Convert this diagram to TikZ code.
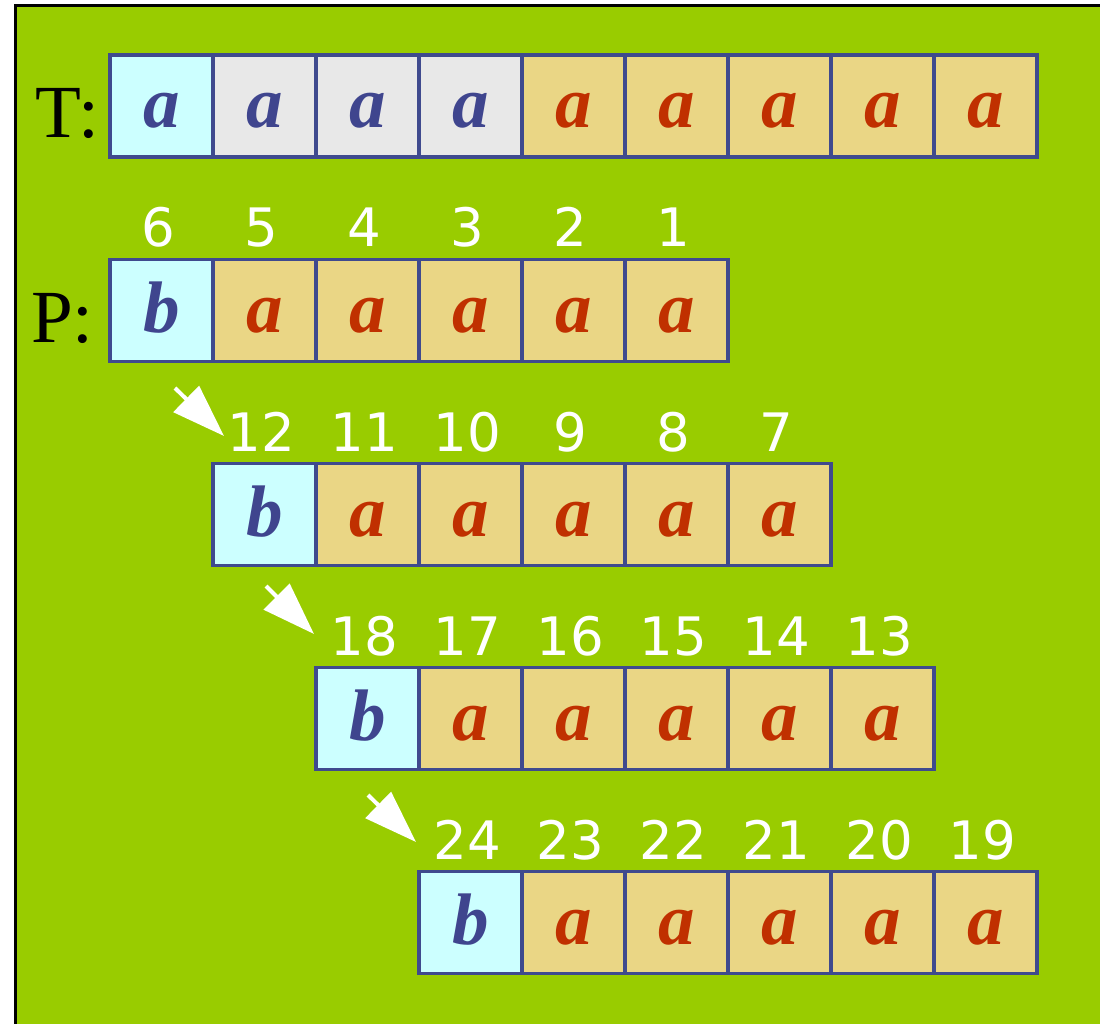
\documentclass[tikz,border=0pt]{standalone}
\usepackage{fontspec}
\setmainfont{Liberation Serif}
\newfontfamily\numfont{DejaVu Sans}
\usetikzlibrary{arrows.meta}
\definecolor{bggreen}{HTML}{99CC00}
\definecolor{cellcyan}{HTML}{CCFFFF}
\definecolor{cellgray}{HTML}{E8E8E8}
\definecolor{celltan}{HTML}{EAD685}
\definecolor{cellborder}{HTML}{3F4A8E}
\definecolor{letblue}{HTML}{3F458E}
\definecolor{letred}{HTML}{C03000}
\tikzset{
  cellbox/.style={draw=cellborder, line width=3.5pt, minimum width=103pt, minimum height=102pt,
    inner sep=0pt, outer sep=0pt, text height=44pt, text depth=0pt,
    font=\bfseries\itshape\fontsize{73}{73}\selectfont},
  cyancell/.style={cellbox, fill=cellcyan, text=letblue},
  graycell/.style={cellbox, fill=cellgray, text=letblue},
  tancell/.style={cellbox, fill=celltan, text=letred},
  numlabel/.style={anchor=base, text=white, inner sep=0pt, font=\numfont\fontsize{53}{53}\selectfont},
  rowlabel/.style={anchor=base east, inner sep=0pt, font=\fontsize{75}{75}\selectfont},
  shiftarrow/.style={draw=white, line width=4pt, -{Triangle[length=53pt,width=36pt]}}
}
\begin{document}
\begin{tikzpicture}[x=1pt,y=-1pt]
\useasboundingbox (0,0) rectangle (1100,1024);
\fill[white] (0,0) rectangle (1100,1024);
\draw[line width=3pt, fill=bggreen] (15.5,5.5) rectangle (1120,1040);

% Text row
\node[rowlabel] (tlab) at (99,138) {T:};
\foreach \i in {1,...,9}{
  \pgfmathsetmacro{\cx}{110+103*(\i-1)+51.5}
  \ifnum\i=1
    \node[cyancell] (t\i) at (\cx,106) {a};
  \else\ifnum\i<5
    \node[graycell] (t\i) at (\cx,106) {a};
  \else
    \node[tancell] (t\i) at (\cx,106) {a};
  \fi\fi
}

% Pattern rows
\node[rowlabel] (plab) at (94,342) {P:};
\foreach \r in {0,1,2,3}{
  \pgfmathsetmacro{\cy}{310.5+204*\r}
  \pgfmathsetmacro{\ty}{260+204*\r-13}
  \foreach \j in {1,...,6}{
    \pgfmathsetmacro{\cx}{110+103*(\r+\j-1)+51.5}
    \pgfmathtruncatemacro{\num}{6*(\r+1)-\j+1}
    \ifnum\j=1
      \node[cyancell] (p\r c\j) at (\cx,\cy) {b};
    \else
      \node[tancell] (p\r c\j) at (\cx,\cy) {a};
    \fi
    \node[numlabel] (n\r c\j) at (\cx-3,\ty) {\num};
  }
}

% shift arrows
\coordinate (a1s) at (175,388);
\coordinate (a1e) at (224,436);
\coordinate (a2s) at (266,586);
\coordinate (a2e) at (314,634);
\coordinate (a3s) at (368,795);
\coordinate (a3e) at (416,842);
\draw[shiftarrow] (a1s) -- (a1e);
\draw[shiftarrow] (a2s) -- (a2e);
\draw[shiftarrow] (a3s) -- (a3e);
\end{tikzpicture}
\end{document}
